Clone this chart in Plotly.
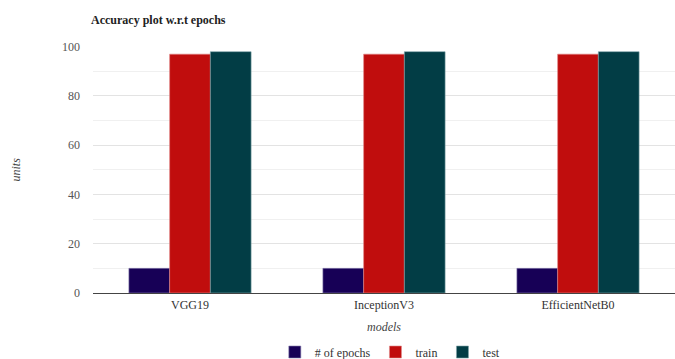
import plotly.graph_objects as go

models = ["VGG19", "InceptionV3", "EfficientNetB0"]
epochs = [10, 10, 10]
train = [97, 97, 97]
test = [98, 98, 98]

serif = "Liberation Serif"

fig = go.Figure()
fig.add_bar(name="# of epochs", x=models, y=epochs, marker=dict(color="#170056", line=dict(color="#8a80b0", width=0.6)))
fig.add_bar(name="train", x=models, y=train, marker=dict(color="#c00d0d", line=dict(color="#e08a8a", width=0.6)))
fig.add_bar(name="test", x=models, y=test, marker=dict(color="#023d45", line=dict(color="#7fa5aa", width=0.6)))

fig.update_layout(
    width=675, height=359,
    margin=dict(l=93, r=0, t=46, b=66),
    paper_bgcolor="white", plot_bgcolor="white",
    barmode="group", bargap=0.37, bargroupgap=0.0,
    font=dict(family=serif, size=12, color="#444"),
    title=dict(text="<b>Accuracy plot w.r.t epochs</b>", x=91/675, xanchor="left",
               y=1 - 20/359, yanchor="middle", font=dict(family=serif, size=12, color="#222")),
    legend=dict(orientation="h", x=0.51, xanchor="center", yref="container", y=1 - 352/359,
                yanchor="middle", font=dict(family=serif, size=12, color="#333"),
                itemwidth=30, traceorder="normal"),
    xaxis=dict(title=dict(text="<i>models</i>", standoff=12, font=dict(family=serif, size=12, color="#444")),
               showgrid=False, showline=True, linecolor="#444", linewidth=1.2,
               tickfont=dict(family=serif, size=12, color="#333"), ticks=""),
    yaxis=dict(range=[0, 100.3], tickvals=[0, 20, 40, 60, 80, 100], gridcolor="#e3e3e3",
               minor=dict(tickvals=[10, 30, 50, 70, 90], showgrid=True, gridcolor="#f0f0f0"),
               zeroline=False, ticklabelstandoff=12,
               tickfont=dict(family=serif, size=12, color="#555")),
    annotations=[dict(text="<i>units</i>", xref="paper", yref="paper", x=(15 - 93) / 582, y=0.5,
                      xanchor="center", yanchor="middle", textangle=-90, showarrow=False,
                      font=dict(family=serif, size=12, color="#444"))],
)

fig.write_html("out.html")
